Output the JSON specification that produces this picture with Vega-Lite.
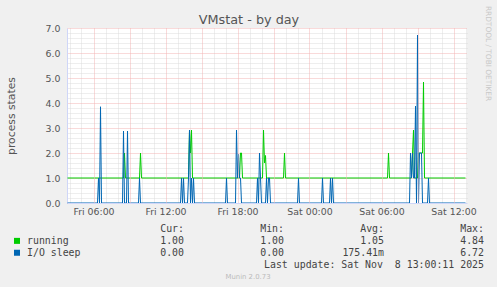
{
  "$schema": "https://vega.github.io/schema/vega-lite/v6.json",
  "autosize": {"type": "none"},
  "padding": {"left": 67, "top": 28, "right": 0, "bottom": 0},
  "params": [{"name": "width", "value": 430}, {"name": "height", "value": 259}],
  "background": "#f0f0f0",
  "bounds": "flush",
  "spacing": 26,
  "config": {
    "view": {"stroke": null},
    "font": "DejaVu Sans",
    "axis": {"labelFont": "DejaVu Sans", "titleFont": "DejaVu Sans", "labelColor": "#555555", "titleColor": "#555555", "titleFontWeight": "normal", "ticks": false, "tickSize": 0}
  },
  "datasets": {
    "series": [
      {"t": "2025-11-07T03:50", "s": "running", "v": 1},
      {"t": "2025-11-07T08:30", "s": "running", "v": 1},
      {"t": "2025-11-07T08:35", "s": "running", "v": 2.0},
      {"t": "2025-11-07T08:40", "s": "running", "v": 1},
      {"t": "2025-11-07T09:50", "s": "running", "v": 1},
      {"t": "2025-11-07T09:55", "s": "running", "v": 2.0},
      {"t": "2025-11-07T10:00", "s": "running", "v": 1},
      {"t": "2025-11-07T13:55", "s": "running", "v": 1},
      {"t": "2025-11-07T14:00", "s": "running", "v": 2.92},
      {"t": "2025-11-07T14:05", "s": "running", "v": 2.0},
      {"t": "2025-11-07T14:10", "s": "running", "v": 2.92},
      {"t": "2025-11-07T14:15", "s": "running", "v": 1},
      {"t": "2025-11-07T18:10", "s": "running", "v": 1},
      {"t": "2025-11-07T18:15", "s": "running", "v": 2.0},
      {"t": "2025-11-07T18:20", "s": "running", "v": 2.0},
      {"t": "2025-11-07T18:25", "s": "running", "v": 1},
      {"t": "2025-11-07T20:05", "s": "running", "v": 1},
      {"t": "2025-11-07T20:10", "s": "running", "v": 2.92},
      {"t": "2025-11-07T20:15", "s": "running", "v": 1.6},
      {"t": "2025-11-07T20:20", "s": "running", "v": 1.9},
      {"t": "2025-11-07T20:25", "s": "running", "v": 1},
      {"t": "2025-11-07T21:50", "s": "running", "v": 1},
      {"t": "2025-11-07T21:55", "s": "running", "v": 2.0},
      {"t": "2025-11-07T22:00", "s": "running", "v": 1},
      {"t": "2025-11-08T06:30", "s": "running", "v": 1},
      {"t": "2025-11-08T06:35", "s": "running", "v": 2.0},
      {"t": "2025-11-08T06:40", "s": "running", "v": 1},
      {"t": "2025-11-08T08:30", "s": "running", "v": 1},
      {"t": "2025-11-08T08:35", "s": "running", "v": 2.0},
      {"t": "2025-11-08T08:40", "s": "running", "v": 2.92},
      {"t": "2025-11-08T08:45", "s": "running", "v": 1},
      {"t": "2025-11-08T09:00", "s": "running", "v": 1},
      {"t": "2025-11-08T09:05", "s": "running", "v": 2.0},
      {"t": "2025-11-08T09:10", "s": "running", "v": 2.0},
      {"t": "2025-11-08T09:15", "s": "running", "v": 2.0},
      {"t": "2025-11-08T09:20", "s": "running", "v": 2.0},
      {"t": "2025-11-08T09:25", "s": "running", "v": 2.0},
      {"t": "2025-11-08T09:30", "s": "running", "v": 4.84},
      {"t": "2025-11-08T09:35", "s": "running", "v": 1},
      {"t": "2025-11-08T13:00", "s": "running", "v": 1},
      {"t": "2025-11-07T03:50", "s": "I/O sleep", "v": 0},
      {"t": "2025-11-07T06:20", "s": "I/O sleep", "v": 0},
      {"t": "2025-11-07T06:25", "s": "I/O sleep", "v": 1},
      {"t": "2025-11-07T06:30", "s": "I/O sleep", "v": 0},
      {"t": "2025-11-07T06:35", "s": "I/O sleep", "v": 3.85},
      {"t": "2025-11-07T06:40", "s": "I/O sleep", "v": 0},
      {"t": "2025-11-07T08:25", "s": "I/O sleep", "v": 0},
      {"t": "2025-11-07T08:30", "s": "I/O sleep", "v": 2.88},
      {"t": "2025-11-07T08:35", "s": "I/O sleep", "v": 0},
      {"t": "2025-11-07T08:45", "s": "I/O sleep", "v": 0},
      {"t": "2025-11-07T08:50", "s": "I/O sleep", "v": 2.88},
      {"t": "2025-11-07T08:55", "s": "I/O sleep", "v": 0},
      {"t": "2025-11-07T09:45", "s": "I/O sleep", "v": 0},
      {"t": "2025-11-07T09:50", "s": "I/O sleep", "v": 1},
      {"t": "2025-11-07T09:55", "s": "I/O sleep", "v": 0},
      {"t": "2025-11-07T13:15", "s": "I/O sleep", "v": 0},
      {"t": "2025-11-07T13:20", "s": "I/O sleep", "v": 1},
      {"t": "2025-11-07T13:25", "s": "I/O sleep", "v": 0},
      {"t": "2025-11-07T13:30", "s": "I/O sleep", "v": 1},
      {"t": "2025-11-07T13:35", "s": "I/O sleep", "v": 0},
      {"t": "2025-11-07T13:50", "s": "I/O sleep", "v": 0},
      {"t": "2025-11-07T13:55", "s": "I/O sleep", "v": 1},
      {"t": "2025-11-07T14:00", "s": "I/O sleep", "v": 2.92},
      {"t": "2025-11-07T14:05", "s": "I/O sleep", "v": 0},
      {"t": "2025-11-07T14:10", "s": "I/O sleep", "v": 1},
      {"t": "2025-11-07T14:15", "s": "I/O sleep", "v": 0},
      {"t": "2025-11-07T14:20", "s": "I/O sleep", "v": 1},
      {"t": "2025-11-07T14:25", "s": "I/O sleep", "v": 0},
      {"t": "2025-11-07T17:00", "s": "I/O sleep", "v": 0},
      {"t": "2025-11-07T17:05", "s": "I/O sleep", "v": 1},
      {"t": "2025-11-07T17:10", "s": "I/O sleep", "v": 0},
      {"t": "2025-11-07T17:50", "s": "I/O sleep", "v": 0},
      {"t": "2025-11-07T17:55", "s": "I/O sleep", "v": 2.92},
      {"t": "2025-11-07T18:00", "s": "I/O sleep", "v": 1},
      {"t": "2025-11-07T18:05", "s": "I/O sleep", "v": 1.95},
      {"t": "2025-11-07T18:10", "s": "I/O sleep", "v": 1},
      {"t": "2025-11-07T18:15", "s": "I/O sleep", "v": 1},
      {"t": "2025-11-07T18:20", "s": "I/O sleep", "v": 0},
      {"t": "2025-11-07T19:35", "s": "I/O sleep", "v": 0},
      {"t": "2025-11-07T19:40", "s": "I/O sleep", "v": 1},
      {"t": "2025-11-07T19:45", "s": "I/O sleep", "v": 0},
      {"t": "2025-11-07T19:50", "s": "I/O sleep", "v": 2.0},
      {"t": "2025-11-07T19:55", "s": "I/O sleep", "v": 1},
      {"t": "2025-11-07T20:00", "s": "I/O sleep", "v": 0},
      {"t": "2025-11-07T20:20", "s": "I/O sleep", "v": 0},
      {"t": "2025-11-07T20:25", "s": "I/O sleep", "v": 1},
      {"t": "2025-11-07T20:30", "s": "I/O sleep", "v": 0},
      {"t": "2025-11-07T20:35", "s": "I/O sleep", "v": 1},
      {"t": "2025-11-07T20:40", "s": "I/O sleep", "v": 1},
      {"t": "2025-11-07T20:45", "s": "I/O sleep", "v": 0},
      {"t": "2025-11-07T23:00", "s": "I/O sleep", "v": 0},
      {"t": "2025-11-07T23:05", "s": "I/O sleep", "v": 1},
      {"t": "2025-11-07T23:10", "s": "I/O sleep", "v": 0},
      {"t": "2025-11-08T01:00", "s": "I/O sleep", "v": 0},
      {"t": "2025-11-08T01:05", "s": "I/O sleep", "v": 1},
      {"t": "2025-11-08T01:10", "s": "I/O sleep", "v": 0},
      {"t": "2025-11-08T01:40", "s": "I/O sleep", "v": 0},
      {"t": "2025-11-08T01:45", "s": "I/O sleep", "v": 1},
      {"t": "2025-11-08T01:50", "s": "I/O sleep", "v": 0},
      {"t": "2025-11-08T01:55", "s": "I/O sleep", "v": 1},
      {"t": "2025-11-08T02:00", "s": "I/O sleep", "v": 0},
      {"t": "2025-11-08T08:20", "s": "I/O sleep", "v": 0},
      {"t": "2025-11-08T08:25", "s": "I/O sleep", "v": 2},
      {"t": "2025-11-08T08:30", "s": "I/O sleep", "v": 1},
      {"t": "2025-11-08T08:35", "s": "I/O sleep", "v": 2},
      {"t": "2025-11-08T08:40", "s": "I/O sleep", "v": 1},
      {"t": "2025-11-08T08:45", "s": "I/O sleep", "v": 1},
      {"t": "2025-11-08T08:50", "s": "I/O sleep", "v": 3.88},
      {"t": "2025-11-08T08:55", "s": "I/O sleep", "v": 0},
      {"t": "2025-11-08T09:00", "s": "I/O sleep", "v": 6.72},
      {"t": "2025-11-08T09:05", "s": "I/O sleep", "v": 0},
      {"t": "2025-11-08T09:10", "s": "I/O sleep", "v": 2},
      {"t": "2025-11-08T09:15", "s": "I/O sleep", "v": 2},
      {"t": "2025-11-08T09:20", "s": "I/O sleep", "v": 2},
      {"t": "2025-11-08T09:25", "s": "I/O sleep", "v": 0},
      {"t": "2025-11-08T09:50", "s": "I/O sleep", "v": 0},
      {"t": "2025-11-08T09:55", "s": "I/O sleep", "v": 1},
      {"t": "2025-11-08T10:00", "s": "I/O sleep", "v": 0},
      {"t": "2025-11-08T13:00", "s": "I/O sleep", "v": 0}
    ],
    "table": [
      {"r": "header", "c": "Cur", "text": "Cur:\u00a0\u00a0"},
      {"r": "header", "c": "Min", "text": "Min:\u00a0\u00a0"},
      {"r": "header", "c": "Avg", "text": "Avg:\u00a0\u00a0"},
      {"r": "header", "c": "Max", "text": "Max:\u00a0\u00a0"},
      {"r": "running", "c": "name", "text": "running"},
      {"r": "running", "c": "Cur", "text": "1.00\u00a0"},
      {"r": "running", "c": "Min", "text": "1.00\u00a0"},
      {"r": "running", "c": "Avg", "text": "1.05\u00a0"},
      {"r": "running", "c": "Max", "text": "4.84\u00a0"},
      {"r": "I/O sleep", "c": "name", "text": "I/O sleep"},
      {"r": "I/O sleep", "c": "Cur", "text": "0.00\u00a0"},
      {"r": "I/O sleep", "c": "Min", "text": "0.00\u00a0"},
      {"r": "I/O sleep", "c": "Avg", "text": "175.41m"},
      {"r": "I/O sleep", "c": "Max", "text": "6.72\u00a0"},
      {"r": "update", "c": "Max", "text": "Last update: Sat Nov \u00a08 13:00:11 2025"},
      {"r": "footer", "c": "Cur", "text": "Munin 2.0.73"}
    ]
  },
  "vconcat": [
    {
      "width": 400,
      "height": 175,
      "view": {"fill": "#ffffff", "stroke": null},
      "title": {"text": "VMstat - by day", "font": "DejaVu Sans", "fontSize": 12.8, "fontWeight": "normal", "color": "#555555", "anchor": "middle", "dx": -18, "offset": 4, "dy": 25},
      "data": {"name": "series"},
      "layer": [
        {
          "mark": {"type": "line", "opacity": 0},
          "encoding": {
            "x": {
              "field": "t", "type": "temporal",
              "scale": {"domain": [{"year": 2025, "month": 11, "date": 7, "hours": 3, "minutes": 47, "seconds": 30}, {"year": 2025, "month": 11, "date": 8, "hours": 13, "minutes": 7, "seconds": 30}]},
              "axis": {
                "orient": "top", "labels": false, "domain": false, "ticks": false, "title": null,
                "grid": true, "gridColor": "#dcdcdc", "gridDash": [1, 1],
                "values": [
                  {"year": 2025, "month": 11, "date": 7, "hours": 4}, {"year": 2025, "month": 11, "date": 7, "hours": 5},
                  {"year": 2025, "month": 11, "date": 7, "hours": 7}, {"year": 2025, "month": 11, "date": 7, "hours": 8},
                  {"year": 2025, "month": 11, "date": 7, "hours": 10}, {"year": 2025, "month": 11, "date": 7, "hours": 11},
                  {"year": 2025, "month": 11, "date": 7, "hours": 13}, {"year": 2025, "month": 11, "date": 7, "hours": 14},
                  {"year": 2025, "month": 11, "date": 7, "hours": 16}, {"year": 2025, "month": 11, "date": 7, "hours": 17},
                  {"year": 2025, "month": 11, "date": 7, "hours": 19}, {"year": 2025, "month": 11, "date": 7, "hours": 20},
                  {"year": 2025, "month": 11, "date": 7, "hours": 22}, {"year": 2025, "month": 11, "date": 7, "hours": 23},
                  {"year": 2025, "month": 11, "date": 8, "hours": 1}, {"year": 2025, "month": 11, "date": 8, "hours": 2},
                  {"year": 2025, "month": 11, "date": 8, "hours": 4}, {"year": 2025, "month": 11, "date": 8, "hours": 5},
                  {"year": 2025, "month": 11, "date": 8, "hours": 7}, {"year": 2025, "month": 11, "date": 8, "hours": 8},
                  {"year": 2025, "month": 11, "date": 8, "hours": 10}, {"year": 2025, "month": 11, "date": 8, "hours": 11},
                  {"year": 2025, "month": 11, "date": 8, "hours": 13}
                ]
              }
            },
            "y": {
              "field": "v", "type": "quantitative",
              "scale": {"domain": [0, 7], "nice": false, "zero": true},
              "axis": {
                "orient": "right", "labels": false, "domain": false, "ticks": false,
                "grid": true, "gridColor": "#dcdcdc", "gridDash": [1, 1],
                "values": [0.2, 0.4, 0.6, 0.8, 1.2, 1.4, 1.6, 1.8, 2.2, 2.4, 2.6, 2.8, 3.2, 3.4, 3.6, 3.8, 4.2, 4.4, 4.6, 4.8, 5.2, 5.4, 5.6, 5.8, 6.2, 6.4, 6.6, 6.8],
                "title": "RRDTOOL / TOBI OETIKER", "titleAngle": 90, "titleX": 20, "titleY": 25,
                "titleAlign": "center", "titleBaseline": "middle", "titleFontSize": 7.4, "titleColor": "#c8c8c8"
              }
            },
            "detail": {"field": "s"}
          }
        },
        {
          "mark": {"type": "line", "strokeWidth": 1},
          "encoding": {
            "x": {
              "field": "t", "type": "temporal",
              "axis": {
                "orient": "bottom", "title": null, "format": "%a %H:%M",
                "labelExpr": "hours(datum.value) % 6 == 0 ? datum.label : ''",
                "labelFontSize": 9.4, "labelPadding": 4, "labelOverlap": false,
                "grid": true, "gridColor": "#f2b4b4", "gridDash": [1, 1],
                "domainColor": "#cfd6f8", "zindex": 1,
                "values": [
                  {"year": 2025, "month": 11, "date": 7, "hours": 6}, {"year": 2025, "month": 11, "date": 7, "hours": 9},
                  {"year": 2025, "month": 11, "date": 7, "hours": 12}, {"year": 2025, "month": 11, "date": 7, "hours": 15},
                  {"year": 2025, "month": 11, "date": 7, "hours": 18}, {"year": 2025, "month": 11, "date": 7, "hours": 21},
                  {"year": 2025, "month": 11, "date": 8, "hours": 0}, {"year": 2025, "month": 11, "date": 8, "hours": 3},
                  {"year": 2025, "month": 11, "date": 8, "hours": 6}, {"year": 2025, "month": 11, "date": 8, "hours": 9},
                  {"year": 2025, "month": 11, "date": 8, "hours": 12}
                ]
              }
            },
            "y": {
              "field": "v", "type": "quantitative",
              "axis": {
                "orient": "left", "values": [0, 1, 2, 3, 4, 5, 6, 7], "format": ".1f",
                "labelFontSize": 9.4, "labelPadding": 7,
                "grid": true, "gridColor": "#f2b4b4", "gridDash": [1, 1],
                "domainColor": "#cfd6f8",
                "title": "process states", "titleFontSize": 10.8, "titlePadding": 29
              }
            },
            "color": {
              "field": "s", "type": "nominal",
              "scale": {"domain": ["running", "I/O sleep"], "range": ["#00cc00", "#0066b3"]},
              "legend": null
            }
          }
        }
      ],
      "resolve": {"axis": {"x": "independent", "y": "independent"}}
    },
    {
      "width": 434,
      "height": 47.5,
      "data": {"name": "table"},
      "encoding": {
        "x": {"field": "c", "type": "ordinal", "scale": {"type": "point", "domain": ["name", "Cur", "Min", "Avg", "Max"], "padding": 0.17}, "axis": null},
        "y": {"field": "r", "type": "ordinal", "scale": {"type": "point", "domain": ["header", "running", "I/O sleep", "update", "footer"], "padding": 0}, "axis": null}
      },
      "layer": [
        {
          "transform": [{"filter": "datum.c == 'name'"}],
          "mark": {"type": "square", "size": 36, "opacity": 1, "xOffset": -67},
          "encoding": {
            "color": {"field": "r", "type": "nominal", "scale": {"domain": ["running", "I/O sleep"], "range": ["#00cc00", "#0066b3"]}, "legend": null}
          }
        },
        {
          "transform": [{"filter": "datum.c == 'name'"}],
          "mark": {"type": "text", "align": "left", "baseline": "middle", "dx": -57, "font": "DejaVu Sans Mono", "fontSize": 9.9, "color": "#444444"},
          "encoding": {"text": {"field": "text"}}
        },
        {
          "transform": [{"filter": "datum.c != 'name' && datum.r != 'footer'"}],
          "mark": {"type": "text", "align": "right", "baseline": "middle", "font": "DejaVu Sans Mono", "fontSize": 9.9, "color": "#444444"},
          "encoding": {"text": {"field": "text"}}
        },
        {
          "transform": [{"filter": "datum.r == 'footer'"}],
          "mark": {"type": "text", "align": "center", "baseline": "middle", "dx": 64, "font": "DejaVu Sans", "fontSize": 6.9, "color": "#bbbbbb"},
          "encoding": {"text": {"field": "text"}}
        }
      ]
    }
  ]
}
